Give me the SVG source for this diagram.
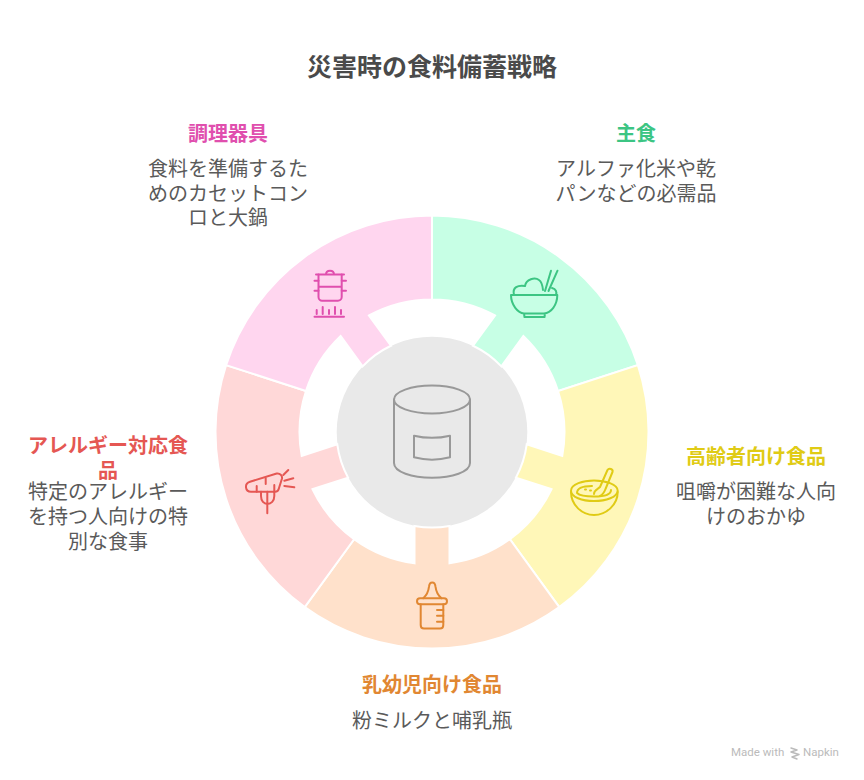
<svg xmlns="http://www.w3.org/2000/svg" width="864" height="780" viewBox="0 0 864 780">
<style>
text{font-family:"Noto Sans CJK JP","Noto Sans",sans-serif;text-anchor:middle}
.t{font-size:25px;font-weight:700;fill:#4a4a4a}
.h{font-size:20px;font-weight:700}
.d{font-size:20px;fill:#5a5a5a}
.seg{stroke:#fff;stroke-width:2}
.i{fill:none;stroke-width:2;stroke-linecap:round;stroke-linejoin:round}
.wm{font-size:11.5px;fill:#bbb;text-anchor:start;font-family:"Roboto",sans-serif}
</style>
<defs>
<path id="s" class="seg" d="M-127.26 175.15A216.5 216.5 0 0 0 127.26 175.15L77.9 107.2A132.5 132.5 0 0 1 17.5 131.3L17.5 93.9A95.5 95.5 0 0 1-17.5 93.9L-17.5 131.3A132.5 132.5 0 0 1-77.9 107.2Z"/>
</defs>
<rect width="864" height="780" fill="#fff"/>
<text class="t" x="432" y="76">災害時の食料備蓄戦略</text>
<g id="center">
<circle cx="432" cy="432" r="95.3" fill="#e9e9e9"/>
<g class="i" stroke="#999">
<ellipse cx="432" cy="399.5" rx="38" ry="14"/>
<path d="M394 399.5V463C394 472 412 477.7 432 477.7S470 472 470 463V399.5"/>
<path d="M414 435.7Q432 440 450 435.7V457.3Q432 462 414 457.3Z"/>
</g>
</g>
<g id="node-shushoku">
<use href="#s" transform="translate(432 432) rotate(-144)" fill="#c7ffe5"/>
<g class="i" stroke="#3cc583">
<path d="M511 295H557.3M511 295C511 305 518 313 524 313.5H544C551 313 557.3 305 557.3 295M524 313.5L524.5 317H544.5L545 313.5"/>
<path d="M514 295C512 287 518 285 525 286C526 279 535 277 539 280C542 282 542.500 285 543 290M552 288C556 289 557 292 556 295"/>
<path d="M545 291L551 270.700M548.500 291L557.500 270.700"/>
</g>
<text class="h" x="636" y="140.500" fill="#3cc583">主食</text>
<text class="d" x="636" y="175.500">アルファ化米や乾</text>
<text class="d" x="636" y="200.500">パンなどの必需品</text>
</g>
<g id="node-koreisha">
<use href="#s" transform="translate(432 432) rotate(-72)" fill="#fff7b8"/>
<g class="i" stroke="#e0cb15">
<path d="M571 490.700C571 484 583 480.500 594 480.500C605 480.500 617.700 484 617.700 490.700C617.700 497 606 501 594 501C582 501 571 497 571 490.700Z"/>
<path d="M571 492C571 505 582 515 594 515S617.700 505 617.700 492"/>
<path d="M577 493C577 488 584 486 592 486M611 490C611 495 605 496.500 594 496.500C586 496.500 580 496 577 493"/>
<path d="M594 494C594 490 598 489 600 487L607.500 470C609 467.500 613.500 469 612.500 472L605.500 489C604 493 602 495 600 496"/>
<path d="M585 489.500H586M590 490.500H591"/>
</g>
<text class="h" x="756" y="464" fill="#e0cb15">高齢者向け食品</text>
<text class="d" x="756" y="499">咀嚼が困難な人向</text>
<text class="d" x="756" y="524">けのおかゆ</text>
</g>
<g id="node-nyuyoji">
<use href="#s" transform="translate(432 432)" fill="#ffe1cb"/>
<g class="i" stroke="#e18732">
<path d="M423.300 598.300C427 595 428.500 591 429 586.700C429.500 581 435 581 435.500 586.700C436 591 437.500 595 441.500 598.300"/>
<rect x="417" y="598.300" width="30" height="6" rx="3"/>
<path d="M420.700 604.300V625C420.700 627.500 422 628.500 424 628.500H440C442 628.500 443.300 627.500 443.300 625V604.300"/>
<path d="M437 610H443.300M437 615.800H443.300M437 621.700H443.300"/>
</g>
<text class="h" x="432" y="692" fill="#e18732">乳幼児向け食品</text>
<text class="d" x="432" y="728">粉ミルクと哺乳瓶</text>
</g>
<g id="node-allergy">
<use href="#s" transform="translate(432 432) rotate(72)" fill="#ffd8d8"/>
<g class="i" stroke="#e55753">
<path d="M250 481.700L276.700 473.500C280 473 282.500 475.500 282 478.500L279 488C278.500 490.500 277 491.700 275 491.700H251C245 491.700 244 483.500 250 481.700Z"/>
<path d="M283.300 475L288.300 470M284.300 480.700L293.300 478.300M284.300 486L294.300 487.300"/>
<path d="M256.700 486V491.700M265.700 478.300V484M274.300 485V491.700"/>
<path d="M261 491.700V496C261 501 264 504 267.500 504S274.300 501 274.300 496V491.700M267.300 491.700V513.300"/>
</g>
<text class="h" x="108" y="452.500" fill="#e55753">アレルギー対応食</text>
<text class="h" x="108" y="477.500" fill="#e55753">品</text>
<text class="d" x="108" y="499">特定のアレルギー</text>
<text class="d" x="108" y="524">を持つ人向けの特</text>
<text class="d" x="108" y="549">別な食事</text>
</g>
<g id="node-chori">
<use href="#s" transform="translate(432 432) rotate(144)" fill="#ffd6ef"/>
<g class="i" stroke="#e04fae">
<path d="M316 274.500H344M326 274.500C326 269.500 334 269.500 334 274.500"/>
<path d="M318.500 274.500V297C318.500 299.500 320.500 300.700 322 300.700H338C339.500 300.700 341.700 299.500 341.700 297V274.500M318.500 286.700H341.700"/>
<path d="M314.500 280.700H318.500M341.700 280.700H346M314.500 290.700H318.500M341.700 290.700H346"/>
<path d="M314.500 316.700H344M316.700 310V314M322.700 307V314M329 310V314M335 307V314M341 310V314"/>
</g>
<text class="h" x="228" y="140.500" fill="#e04fae">調理器具</text>
<text class="d" x="228" y="175.500">食料を準備するた</text>
<text class="d" x="228" y="200.500">めのカセットコン</text>
<text class="d" x="228" y="225">ロと大鍋</text>
</g>
<g id="connectors"></g>
<g id="watermark">
<text class="wm" x="731" y="756">Made with</text>
<path d="M791 748L797 750L791 752L799 754.500L792 757L797 759" fill="none" stroke="#bbb" stroke-width="1.500" stroke-linecap="round" stroke-linejoin="round"/>
<text class="wm" x="803" y="756">Napkin</text>
</g>
</svg>
